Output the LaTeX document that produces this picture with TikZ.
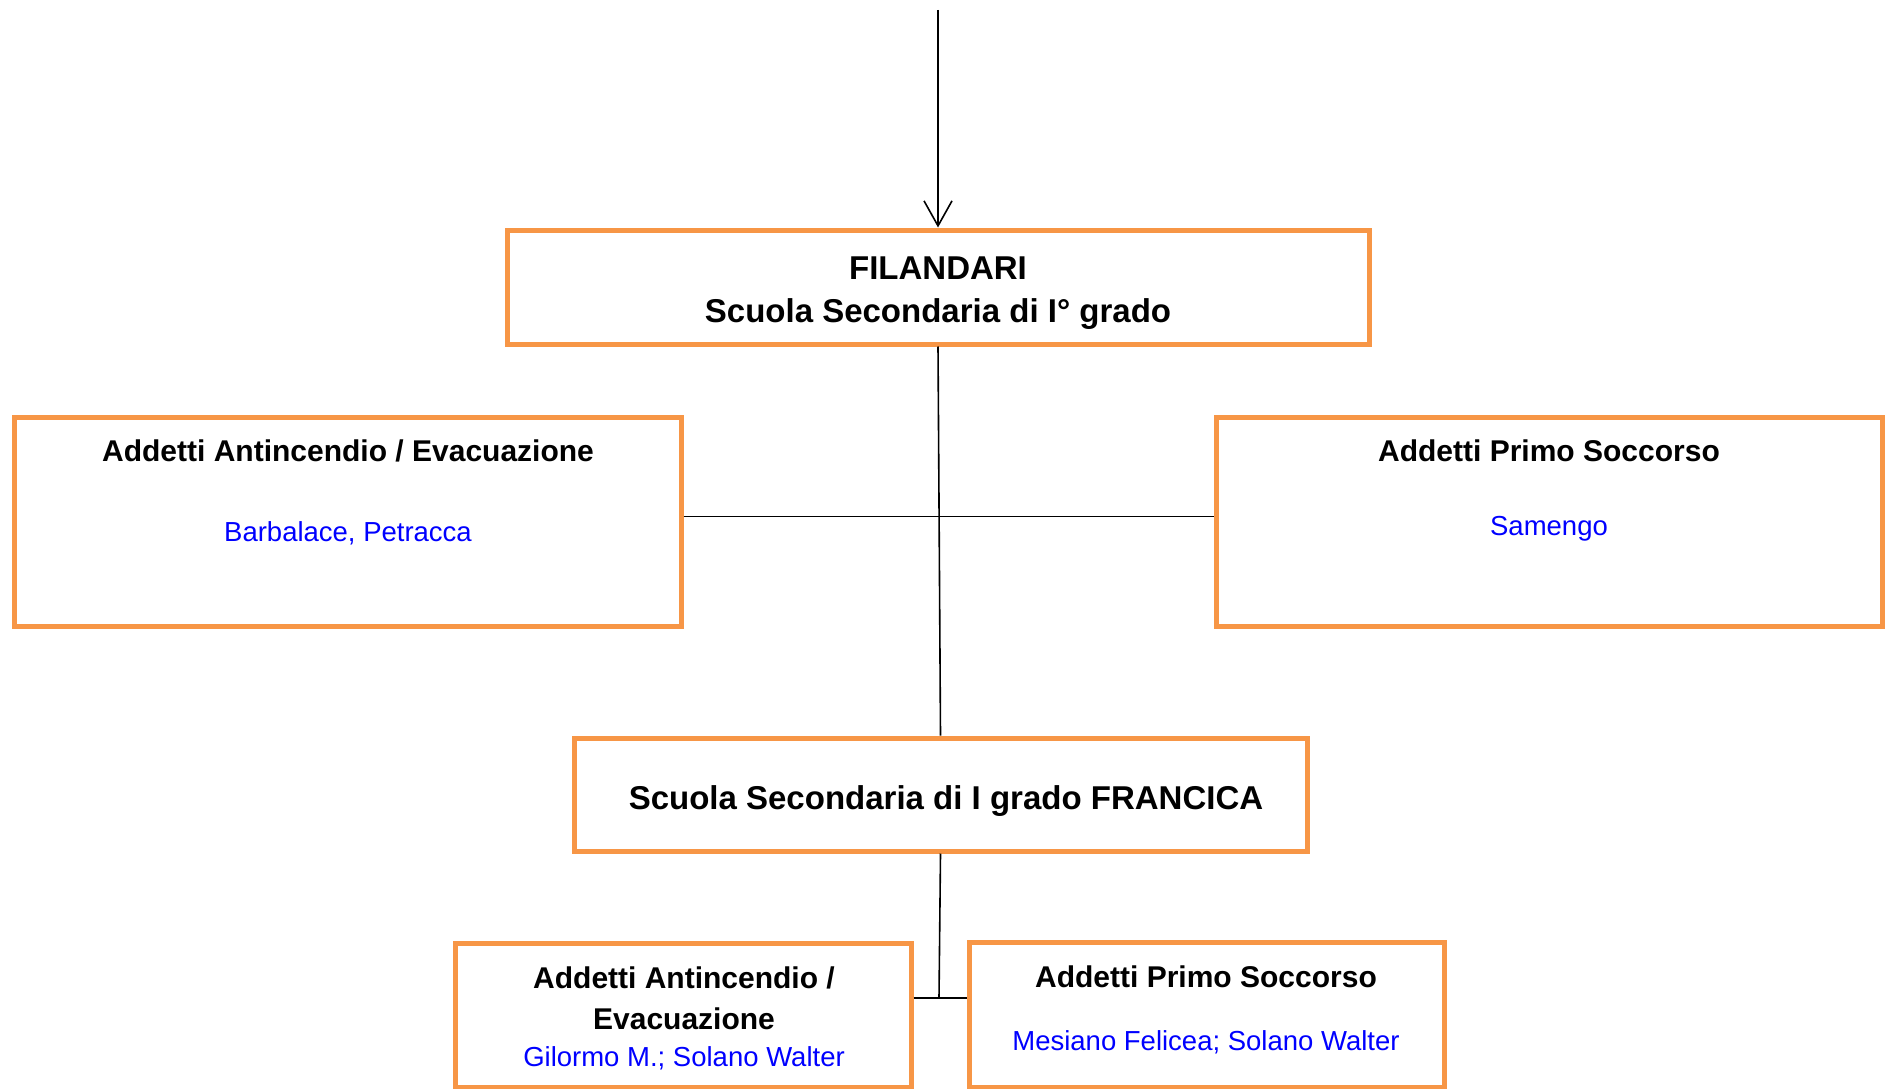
\documentclass[tikz,border=0pt]{standalone}
\usepackage{fontspec}
\setmainfont{Liberation Sans}
\usetikzlibrary{arrows.meta}
\definecolor{boxorange}{HTML}{F79646}
\definecolor{nameblue}{RGB}{0,0,255}
\tikzset{
  orgbox/.style={draw=boxorange,line width=5pt,rectangle,inner sep=0pt},
  link/.style={draw=black,line width=1.6pt},
  bigtitle/.style={font=\fontsize{33}{40}\selectfont\bfseries,inner sep=0pt,anchor=center},
  boxtitle/.style={font=\fontsize{30}{36}\selectfont\bfseries,inner sep=0pt,anchor=center},
  names/.style={font=\fontsize{27.5}{33}\selectfont,text=nameblue,inner sep=0pt,anchor=center}
}
\begin{document}
\begin{tikzpicture}[x=1pt,y=-1pt]
\useasboundingbox (0,0) rectangle (1888,1089);
\fill[white] (0,0) rectangle (1888,1089);
% boxes
\node[orgbox,minimum width=862pt,minimum height=114pt] (fil) at (938,287) {};
\node[orgbox,minimum width=667pt,minimum height=209pt] (left) at (347.5,521.5) {};
\node[orgbox,minimum width=666pt,minimum height=209pt] (right) at (1549,521.5) {};
\node[orgbox,minimum width=733pt,minimum height=113pt] (fra) at (940.5,794.5) {};
\node[orgbox,minimum width=456pt,minimum height=144pt] (bl) at (683,1015) {};
\node[orgbox,minimum width=475pt,minimum height=145pt] (br) at (1206.5,1014.5) {};
% texts
\node[bigtitle] (filA) at (938,268) {FILANDARI};
\node[bigtitle] (filB) at (938,314) {Scuola Secondaria di I° grado};
\node[boxtitle] (leftT) at (348,451) {Addetti Antincendio / Evacuazione};
\node[names] (leftN) at (348,533) {Barbalace, Petracca};
\node[boxtitle] (rightT) at (1549,451) {Addetti Primo Soccorso};
\node[names] (rightN) at (1549,529) {Samengo};
\node[bigtitle] (fraT) at (946,801) {Scuola Secondaria di I grado FRANCICA};
\node[boxtitle] (blA) at (684,978) {Addetti Antincendio /};
\node[boxtitle] (blB) at (684,1019) {Evacuazione};
\node[names] (blN) at (684,1058) {Gilormo M.; Solano Walter};
\node[boxtitle] (brT) at (1206,977) {Addetti Primo Soccorso};
\node[names] (brN) at (1206,1042) {Mesiano Felicea; Solano Walter};
% connectors
\coordinate (top) at (938,10);
\coordinate (j) at (939,998);
\draw[link,-{Straight Barb[length=25pt,width=28pt,line width=1.6pt]}] (top) -- (fil.north);
\draw[link] (fil.south) -- (fra.north);
\draw[link] ([yshift=5pt]left.east) -- ([yshift=5pt]right.west);
\draw[link] (fra.south) -- (j);
\draw[link] (bl.east |- j) -- (br.west |- j);
\end{tikzpicture}
\end{document}
